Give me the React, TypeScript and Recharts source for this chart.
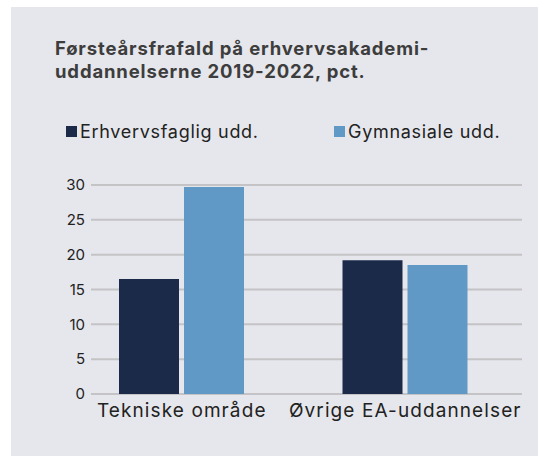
import React from "react";
import { BarChart, Bar, XAxis, YAxis, CartesianGrid } from "recharts";

const categories = ["Tekniske område", "Øvrige EA-uddannelser"];
const erhvervsfaglig = [16.5, 19.2];
const gymnasiale = [29.7, 18.5];
const yTicks = [0, 5, 10, 15, 20, 25, 30];
const seriesNames = ["Erhvervsfaglig udd.", "Gymnasiale udd."];
const titleLines = ["Førsteårsfrafald på erhvervsakademi-", "uddannelserne 2019-2022, pct."];
const colors = ["#1c2a4a", "#6199c6"];

const data = categories.map((c, i) => ({
  name: c,
  erhv: erhvervsfaglig[i],
  gym: gymnasiale[i],
}));

const FONT = "Inter, 'Open Sans', sans-serif";
const legendX = [66, 334];

export default function App() {
  return (
    <div style={{ position: "absolute", left: 0, top: 0, width: 539, height: 456, background: "#fff", overflow: "hidden" }}>
      <div style={{ position: "absolute", left: 11, top: 7, width: 527, height: 449, background: "#e6e7ec" }} />
      {titleLines.map((t, i) => (
        <div
          key={i}
          style={{
            position: "absolute",
            left: 55,
            top: 37 + i * 23,
            height: 23,
            fontFamily: FONT,
            fontWeight: 700,
            fontSize: 18.5,
            lineHeight: "23px",
            letterSpacing: 0.85,
            color: "#3d3d3d",
            whiteSpace: "nowrap",
          }}
        >
          {t}
        </div>
      ))}
      {seriesNames.map((s, i) => (
        <div
          key={s}
          style={{
            position: "absolute",
            left: legendX[i],
            top: 118,
            height: 26,
            display: "flex",
            alignItems: "center",
            fontFamily: FONT,
            fontSize: 18,
            letterSpacing: 0.7,
            color: "#222",
            whiteSpace: "nowrap",
          }}
        >
          <span style={{ display: "inline-block", width: 11, height: 11, background: colors[i], marginRight: 3 }} />
          {s}
        </div>
      ))}
      <div style={{ position: "absolute", left: 0, top: 0 }}>
        <BarChart
          width={539}
          height={456}
          data={data}
          margin={{ top: 185, right: 17, bottom: 32, left: 0 }}
          barSize={60}
          barGap={5}
        >
          <CartesianGrid vertical={false} stroke="#c4c3c5" strokeWidth={2} />
          <XAxis
            dataKey="name"
            axisLine={false}
            tickLine={false}
            padding={{ left: -21, right: 5 }}
            tick={{ fontFamily: FONT, fontSize: 19, fill: "#222", letterSpacing: 1.1 }}
            tickMargin={4}
            interval={0}
          />
          <YAxis
            domain={[0, 30]}
            ticks={yTicks}
            width={91}
            axisLine={false}
            tickLine={false}
            tickSize={4}
            tickMargin={2}
            tick={{ fontFamily: FONT, fontSize: 15, fill: "#222" }}
          />
          <Bar dataKey="erhv" name={seriesNames[0]} fill={colors[0]} isAnimationActive={false} />
          <Bar dataKey="gym" name={seriesNames[1]} fill={colors[1]} isAnimationActive={false} />
        </BarChart>
      </div>
    </div>
  );
}
